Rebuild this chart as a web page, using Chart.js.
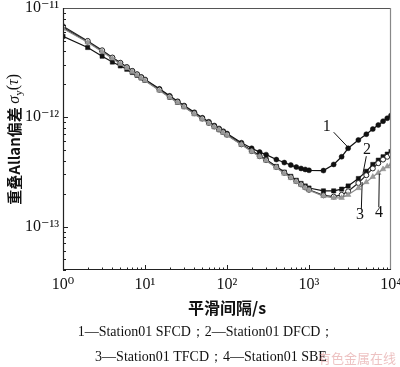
<!DOCTYPE html>
<html>
<head>
<meta charset="utf-8">
<script src="https://cdn.jsdelivr.net/npm/chart.js@4"></script>
<style>
html, body { margin: 0; padding: 0; background: #fff; }
#wrap { width: 400px; height: 367px; position: relative; }
</style>
</head>
<body>
<div id="wrap"><canvas id="myChart" width="400" height="367"></canvas></div>
<script>
// smoothing interval tau (s)
const tau = [1,2,3,4,5,6,7,8,9,
	10,15,20,25,30,40,50,60,70,80,90,
	100,150,200,250,300,400,500,600,700,800,900,
	1000,1500,2000,2500,3000,4000,5000,6000,7000,8000,9000,
	10000];

// 1 - Station01 SFCD
const sfcd = [6.6e-12,4.9e-12,4.05e-12,3.5e-12,3.15e-12,2.88e-12,2.66e-12,2.48e-12,2.34e-12,
	2.22e-12,1.82e-12,1.57e-12,1.40e-12,1.28e-12,1.11e-12,0.99e-12,0.91e-12,0.84e-12,0.79e-12,0.745e-12,
	0.71e-12,0.585e-12,0.52e-12,0.48e-12,0.455e-12,0.41e-12,0.385e-12,0.365e-12,0.35e-12,0.34e-12,0.333e-12,
	0.327e-12,0.325e-12,0.37e-12,0.435e-12,0.52e-12,0.62e-12,0.70e-12,0.78e-12,0.85e-12,0.92e-12,0.98e-12,
	1.04e-12];

// 2 - Station01 DFCD
const dfcd = [5.5e-12,4.35e-12,3.62e-12,3.2e-12,2.95e-12,2.75e-12,2.57e-12,2.42e-12,2.29e-12,
	2.18e-12,1.78e-12,1.53e-12,1.37e-12,1.25e-12,1.08e-12,0.97e-12,0.89e-12,0.82e-12,0.77e-12,0.73e-12,
	0.69e-12,0.565e-12,0.495e-12,0.445e-12,0.41e-12,0.355e-12,0.315e-12,0.288e-12,0.265e-12,0.248e-12,0.235e-12,
	0.225e-12,0.212e-12,0.212e-12,0.22e-12,0.235e-12,0.275e-12,0.32e-12,0.37e-12,0.405e-12,0.435e-12,0.46e-12,
	0.485e-12];

// 3 - Station01 TFCD
const tfcd = [6.8e-12,5.0e-12,4.1e-12,3.52e-12,3.15e-12,2.87e-12,2.65e-12,2.47e-12,2.32e-12,
	2.2e-12,1.79e-12,1.54e-12,1.38e-12,1.26e-12,1.09e-12,0.975e-12,0.89e-12,0.825e-12,0.775e-12,0.73e-12,
	0.695e-12,0.565e-12,0.49e-12,0.44e-12,0.405e-12,0.35e-12,0.31e-12,0.283e-12,0.26e-12,0.243e-12,0.228e-12,
	0.217e-12,0.193e-12,0.188e-12,0.195e-12,0.21e-12,0.25e-12,0.295e-12,0.34e-12,0.38e-12,0.41e-12,0.435e-12,
	0.455e-12];

// 4 - Station01 SBE
const sbe = [6.5e-12,4.85e-12,3.98e-12,3.45e-12,3.08e-12,2.82e-12,2.6e-12,2.43e-12,2.28e-12,
	2.16e-12,1.76e-12,1.52e-12,1.36e-12,1.24e-12,1.07e-12,0.96e-12,0.88e-12,0.815e-12,0.765e-12,0.72e-12,
	0.685e-12,0.56e-12,0.485e-12,0.435e-12,0.4e-12,0.345e-12,0.305e-12,0.278e-12,0.256e-12,0.24e-12,0.226e-12,
	0.215e-12,0.19e-12,0.183e-12,0.183e-12,0.195e-12,0.225e-12,0.255e-12,0.285e-12,0.31e-12,0.335e-12,0.355e-12,
	0.37e-12];

const xTicks = [1,10,100,1000,10000];
const yTicks = [1e-13,1e-12,1e-11];
const xTitle = "平滑间隔/s";
const legendLines = ["1—Station01 SFCD；2—Station01 DFCD；", "3—Station01 TFCD；4—Station01 SBE"];

// curve numbers: [label, text x, text y, leader from x, y, to x, y] in data units
const callouts = [
	["1", 1650, 8.2e-13, 2000, 7.3e-13, 3000, 5.3e-13],
	["2", 5100, 5.0e-13, 5000, 4.4e-13, 4550, 3.05e-13],
	["3", 4200, 1.27e-13, 4350, 1.45e-13, 4450, 2.55e-13],
	["4", 7150, 1.33e-13, 7100, 1.5e-13, 7200, 3.05e-13]
];

const SERIF = "'Liberation Serif', 'DejaVu Serif', serif";
const CJK = "'Noto Sans CJK SC', 'Noto Sans CJK JP', sans-serif";

const sup = {"0":"⁰","1":"¹","2":"²","3":"³","4":"⁴","5":"⁵","6":"⁶","7":"⁷","8":"⁸","9":"⁹","-":"⁻"};
function powLabel(v) {
	const e = Math.round(Math.log10(v));
	if (Math.abs(Math.log10(v) - e) > 1e-6) return "";
	return "10" + String(e).split("").map(c => sup[c]).join("");
}

function pts(arr) {
	return tau.map((t, i) => ({x: t, y: arr[i]}));
}

const decor = {
	id: "decor",
	afterDraw(chart) {
		const ctx = chart.ctx;
		const xs = chart.scales.x, ys = chart.scales.y;
		const a = chart.chartArea;
		ctx.save();

		// inward ticks
		ctx.strokeStyle = "#222";
		ctx.lineWidth = 1;
		ctx.beginPath();
		for (let d = 0; d < 4; d++) {
			for (let m = 1; m <= 9; m++) {
				const v = m * Math.pow(10, d);
				const px = Math.round(xs.getPixelForValue(v)) + 0.5;
				const len = m === 1 ? 5 : 2.5;
				ctx.moveTo(px, a.bottom);
				ctx.lineTo(px, a.bottom - len);
			}
		}
		for (let d = -14; d < -11; d++) {
			for (let m = 1; m <= 9; m++) {
				const v = m * Math.pow(10, d);
				if (v < ys.min || v > ys.max) continue;
				const py = Math.round(ys.getPixelForValue(v)) + 0.5;
				const len = m === 1 ? 5 : 3;
				ctx.moveTo(a.left, py);
				ctx.lineTo(a.left + len, py);
			}
		}
		ctx.stroke();

		// frame
		ctx.lineWidth = 1.2;
		ctx.strokeStyle = "#555";
		ctx.beginPath();
		ctx.moveTo(a.left, a.top + 0.5);
		ctx.lineTo(a.right - 0.5, a.top + 0.5);
		ctx.stroke();
		ctx.strokeStyle = "#888";
		ctx.beginPath();
		ctx.moveTo(a.right - 0.5, a.top);
		ctx.lineTo(a.right - 0.5, a.bottom);
		ctx.stroke();
		ctx.strokeStyle = "#222";
		ctx.beginPath();
		ctx.moveTo(a.left + 0.5, a.top);
		ctx.lineTo(a.left + 0.5, a.bottom - 0.5);
		ctx.lineTo(a.right, a.bottom - 0.5);
		ctx.stroke();

		// callouts
		ctx.fillStyle = "#111";
		ctx.strokeStyle = "#111";
		ctx.lineWidth = 1;
		ctx.font = "16px " + SERIF;
		ctx.textAlign = "center";
		ctx.textBaseline = "middle";
		callouts.forEach(c => {
			ctx.fillText(c[0], xs.getPixelForValue(c[1]), ys.getPixelForValue(c[2]));
			ctx.beginPath();
			ctx.moveTo(xs.getPixelForValue(c[3]), ys.getPixelForValue(c[4]));
			ctx.lineTo(xs.getPixelForValue(c[5]), ys.getPixelForValue(c[6]));
			ctx.stroke();
		});

		// x title
		ctx.font = "bold 16px " + CJK;
		ctx.fillText(xTitle, (a.left + a.right) / 2, 308);

		// y title, rotated
		ctx.save();
		ctx.translate(14, (a.top + a.bottom) / 2);
		ctx.rotate(-Math.PI / 2);
		ctx.textAlign = "left";
		const p1 = "重叠Allan偏差 ";
		ctx.font = "bold 15px " + CJK;
		const w1 = ctx.measureText(p1).width;
		ctx.font = "italic 16px " + SERIF;
		const w2 = ctx.measureText("σ").width;
		ctx.font = "11px " + SERIF;
		const w3 = ctx.measureText("y").width;
		ctx.font = "16px " + SERIF;
		const w4 = ctx.measureText("(τ)").width;
		let x0 = -(w1 + w2 + w3 + w4) / 2;
		ctx.font = "bold 15px " + CJK;
		ctx.fillText(p1, x0, 0);
		x0 += w1;
		ctx.font = "italic 16px " + SERIF;
		ctx.fillText("σ", x0, 1);
		x0 += w2;
		ctx.font = "11px " + SERIF;
		ctx.fillText("y", x0, 5);
		x0 += w3;
		ctx.font = "16px " + SERIF;
		ctx.fillText("(", x0, 0);
		const wp = ctx.measureText("(").width;
		ctx.font = "italic 16px " + SERIF;
		ctx.fillText("τ", x0 + wp, 0);
		const wt = ctx.measureText("τ").width;
		ctx.font = "16px " + SERIF;
		ctx.fillText(")", x0 + wp + wt, 0);
		ctx.restore();

		// legend lines below
		ctx.font = "14px " + SERIF;
		ctx.textAlign = "center";
		ctx.fillStyle = "#111";
		ctx.fillText(legendLines[0], 206, 332);
		ctx.fillText(legendLines[1], 211, 357);

		// watermark
		ctx.font = "13px " + CJK;
		ctx.fillStyle = "rgba(215,120,120,0.45)";
		ctx.textAlign = "left";
		ctx.fillText("有色金属在线", 318, 358);

		ctx.restore();
	}
};

new Chart(document.getElementById("myChart"), {
	type: "line",
	data: {
		datasets: [
			{
				label: "1",
				data: pts(sfcd),
				borderColor: "#111",
				backgroundColor: "#111",
				borderWidth: 1.2,
				pointStyle: "circle",
				pointRadius: 2.5,
				pointBorderWidth: 0.5,
				order: 4
			},
			{
				label: "2",
				data: pts(dfcd),
				borderColor: "#111",
				backgroundColor: "#111",
				borderWidth: 1.2,
				pointStyle: "rect",
				pointRadius: 3,
				pointBorderWidth: 0.5,
				order: 3
			},
			{
				label: "3",
				data: pts(tfcd),
				borderColor: "#222",
				backgroundColor: "#fff",
				pointBackgroundColor: "#fff",
				pointBorderColor: "#222",
				borderWidth: 1.2,
				pointStyle: "circle",
				pointRadius: 2.5,
				pointBorderWidth: 1,
				order: 2
			},
			{
				label: "4",
				data: pts(sbe),
				borderColor: "#8a8a8a",
				backgroundColor: "#9a9a9a",
				pointBorderColor: "#8a8a8a",
				borderWidth: 1.2,
				pointStyle: "triangle",
				pointRadius: 3.2,
				pointBorderWidth: 0.5,
				order: 1
			}
		]
	},
	options: {
		responsive: false,
		animation: false,
		devicePixelRatio: 1,
		layout: { padding: { left: 0, top: 8, right: 9, bottom: 0 } },
		plugins: {
			legend: { display: false },
			tooltip: { enabled: false }
		},
		elements: { line: { tension: 0 } },
		scales: {
			x: {
				type: "logarithmic",
				min: 1,
				max: 10000,
				grid: { display: false, drawTicks: false },
				border: { display: false },
				afterFit: function(scale) {
					scale.height = 97;
					scale.paddingLeft = 0;
					scale.paddingRight = 0;
				},
				afterBuildTicks: function(scale) {
					scale.ticks = xTicks.map(v => ({value: v}));
				},
				ticks: {
					autoSkip: false,
					maxRotation: 0,
					padding: 5,
					color: "#111",
					font: { family: SERIF, size: 16 },
					callback: function(v) { return powLabel(v); }
				}
			},
			y: {
				type: "logarithmic",
				min: 4e-14,
				max: 1e-11,
				grid: { display: false, drawTicks: false },
				border: { display: false },
				afterFit: function(scale) {
					scale.width = 63;
					scale.paddingTop = 0;
					scale.paddingBottom = 0;
				},
				afterBuildTicks: function(scale) {
					scale.ticks = yTicks.map(v => ({value: v}));
				},
				ticks: {
					autoSkip: false,
					padding: 4,
					color: "#111",
					font: { family: SERIF, size: 16 },
					callback: function(v) { return powLabel(v); }
				}
			}
		}
	},
	plugins: [decor]
});
</script>
</body>
</html>
